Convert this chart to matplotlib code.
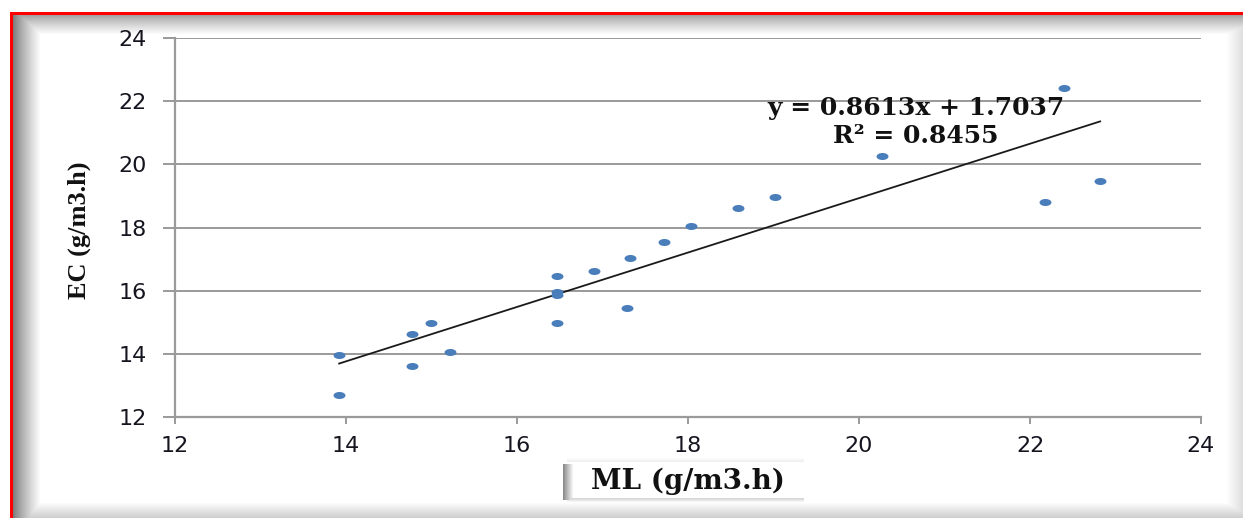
import numpy as np
import matplotlib
matplotlib.use("Agg")
import matplotlib.pyplot as plt
from matplotlib.path import Path
from matplotlib.transforms import Affine2D

# ---- data ----
ml = [13.92, 13.92, 14.77, 14.77, 14.99, 15.22, 16.47, 16.47, 16.47, 16.47, 16.90,
      17.32, 17.29, 17.72, 18.04, 18.58, 19.02, 20.27, 22.40, 22.18, 22.82]
ec = [13.97, 12.70, 14.63, 13.62, 14.98, 14.06, 16.47, 15.96, 15.85, 14.98, 16.63,
      17.04, 15.46, 17.54, 18.05, 18.62, 18.97, 20.27, 22.43, 18.80, 19.47]
slope = 0.8613
intercept = 1.7037
r2 = 0.8455
xticks = [12, 14, 16, 18, 20, 22, 24]
yticks = [12, 14, 16, 18, 20, 22, 24]
eq_text = "y = 0.8613x + 1.7037"
r2_text = "R² = 0.8455"
xlabel = "ML (g/m3.h)"
ylabel = "EC (g/m3.h)"

W, H = 1243, 518
fig = plt.figure(figsize=(W / 100, H / 100), dpi=100)

# ---- background decoration (frame, shadows) ----
bg = fig.add_axes([0, 0, 1, 1], zorder=-5)
bg.set_axis_off()
img = np.ones((H, W, 3))
xs = np.arange(W)
ys = np.arange(H)
lf = np.clip((xs - 12) / 28.0, 0, 1) ** 0.8
lshade = 0.45 + 0.55 * lf
lshade[xs < 12] = 1.0
tf = np.clip((ys - 14) / 20.0, 0, 1) ** 0.8
tshade = 0.6 + 0.4 * tf
tshade[ys < 14] = 1.0
rf = np.clip((xs - 1226) / 17.0, 0, 1)
rshade = 1 - 0.13 * rf
bf = np.clip((ys - 502) / 16.0, 0, 1)
bshade = 1 - 0.2 * bf
shade = np.minimum(np.minimum(lshade[None, :], tshade[:, None]),
                   np.minimum(rshade[None, :], bshade[:, None]))
shade[:12, :] = 1.0
shade[:, :10] = 1.0
img *= shade[:, :, None]
img[12:15, 10:, :] = [1, 0, 0]
img[12:, 10:13, :] = [1, 0, 0]
# x-label box with shadow
bx0, bx1, by0, by1 = 573, 800, 462, 498
for k in range(10):
    v = 0.55 + 0.045 * k
    img[by0 + 2:by1 + 2, bx0 - 10 + k, :] = np.minimum(img[by0 + 2:by1 + 2, bx0 - 10 + k, :], v)
for k in range(4):
    v = 0.84 + 0.04 * k
    img[by1 + k, bx0 - 6:bx1 + 4, :] = np.minimum(img[by1 + k, bx0 - 6:bx1 + 4, :], v)
    img[by0 - 1 - k, bx0 - 6:bx1 + 4, :] = np.minimum(img[by0 - 1 - k, bx0 - 6:bx1 + 4, :], 0.94 + 0.015 * k)
img[by0:by1, bx0:bx1, :] = 1.0
bg.imshow(img, extent=[0, W, H, 0], aspect='auto', interpolation='nearest')
bg.set_xlim(0, W)
bg.set_ylim(H, 0)

# ---- main axes ----
L, R, T, B = 175, 1201, 38, 417
ax = fig.add_axes([L / W, 1 - B / H, (R - L) / W, (B - T) / H])
ax.set_facecolor('none')
ax.set_xlim(12, 24)
ax.set_ylim(12, 24)
ax.set_xticks(xticks)
ax.set_yticks(yticks)
ax.set_xticklabels([str(t) for t in xticks])
ax.set_yticklabels([str(t) for t in yticks])

grey = '#9a9a9a'
ax.grid(axis='y', color=grey, linewidth=1.4)
ax.set_axisbelow(True)
for s in ['top', 'right']:
    ax.spines[s].set_visible(False)
for s in ['left', 'bottom']:
    ax.spines[s].set_color(grey)
    ax.spines[s].set_linewidth(1.6)
ax.tick_params(axis='y', direction='out', length=8.5, width=1.4, color=grey,
               pad=12, labelsize=16, labelcolor='#151520')
ax.tick_params(axis='x', direction='out', length=5, width=1.4, color=grey,
               pad=9, labelsize=16, labelcolor='#151520')
for lab in ax.get_xticklabels() + ax.get_yticklabels():
    lab.set_fontfamily('DejaVu Sans')

ell = Path.unit_circle().transformed(Affine2D().scale(1.7, 1.0))
ax.scatter(ml, ec, marker=ell, s=8.6 ** 2, color='#4a7ebb', linewidths=0, zorder=3,
           clip_on=False)

xl = np.array([min(ml), max(ml)])
ax.plot(xl, slope * xl + intercept, color='#1a1a1a', linewidth=1.3, zorder=2)

serif_w = 'DejaVu Serif'
fig.text(916 / W, 1 - 115 / H, eq_text, ha='center', va='baseline',
         fontsize=18, fontweight='bold', family=serif_w, color='#111111')
fig.text(916 / W, 1 - 143 / H, r2_text, ha='center', va='baseline',
         fontsize=18, fontweight='bold', family=serif_w, color='#111111')

ax.set_xlabel(xlabel, fontsize=20, fontweight='bold', family=serif_w, color='#111111')
ax.xaxis.set_label_coords((688 - L) / (R - L), (B - 481) / (B - T))
ax.xaxis.label.set_va('center')
ax.set_ylabel(ylabel, fontsize=19, fontweight='bold', family='Liberation Serif',
              color='#111111')
ax.yaxis.set_label_coords((79 - L) / (R - L), (B - 230) / (B - T))
ax.yaxis.label.set_va('center')

fig.savefig('out.png', dpi=100)
